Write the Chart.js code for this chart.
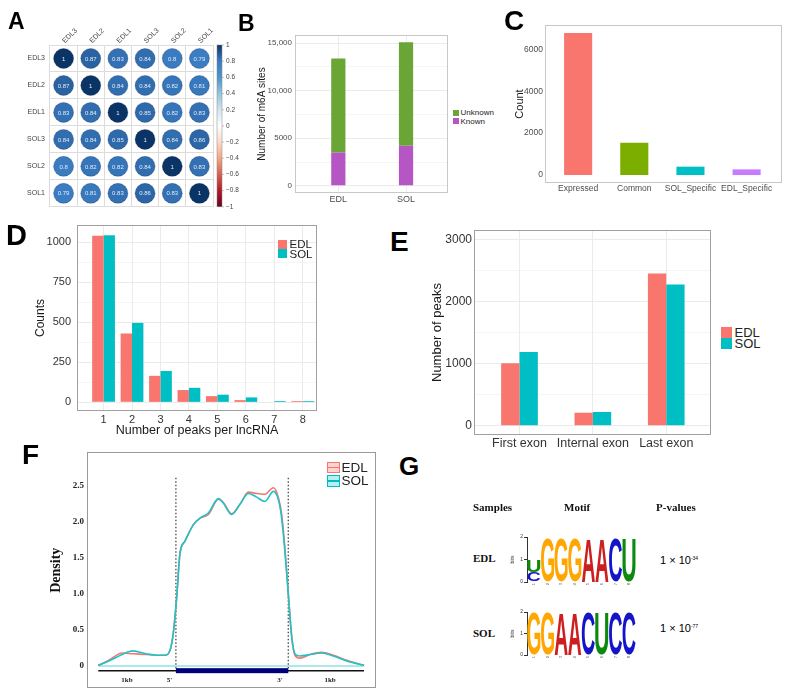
<!DOCTYPE html>
<html>
<head>
<meta charset="utf-8">
<script src="https://cdn.jsdelivr.net/npm/chart.js@4.4.1/dist/chart.umd.min.js"></script>
<style>
  body { margin: 0; background: #fff; width: 791px; height: 698px; position: relative; overflow: hidden;
         font-family: "Liberation Sans", Arial, sans-serif; }
  canvas { position: absolute; }
  .lab { position: absolute; font-weight: bold; color: #000; }
  .t { position: absolute; white-space: nowrap; color: #222; }
  .serif { font-family: "Liberation Serif", "Times New Roman", serif; font-weight: bold; color: #111; }
  .key { position: absolute; }
  sup { font-size: 5px; vertical-align: 4px; }
</style>
</head>
<body>
<canvas id="cA" width="250" height="216" style="left:0;top:0"></canvas>
<canvas id="cB" width="194" height="190" style="left:256px;top:25px"></canvas>
<canvas id="cC" width="271" height="188" style="left:513px;top:15px"></canvas>
<canvas id="cD" width="286" height="227" style="left:33px;top:211px"></canvas>
<canvas id="cE" width="283" height="233" style="left:430px;top:218px"></canvas>
<canvas id="cF" width="330" height="253" style="left:48px;top:444px"></canvas>
<canvas id="cG1" width="128" height="60" style="left:510px;top:530px"></canvas>
<canvas id="cG2" width="128" height="58" style="left:510px;top:605px"></canvas>

<div class="lab" style="left:8px;top:10px;font-size:23px;line-height:23px">A</div>
<div class="lab" style="left:238px;top:12px;font-size:23px;line-height:23px">B</div>
<div class="lab" style="left:504px;top:7px;font-size:28px;line-height:28px">C</div>
<div class="lab" style="left:6px;top:221px;font-size:29px;line-height:29px">D</div>
<div class="lab" style="left:390px;top:228px;font-size:28px;line-height:28px">E</div>
<div class="lab" style="left:22px;top:441px;font-size:28px;line-height:28px">F</div>
<div class="lab" style="left:399px;top:453px;font-size:26px;line-height:26px">G</div>

<!-- legend B -->
<div class="key" style="left:453px;top:110px;width:6px;height:6px;background:#6aa536"></div>
<div class="t" style="left:460.5px;top:108px;font-size:8px;line-height:9px">Unknown</div>
<div class="key" style="left:453px;top:118.3px;width:6px;height:6px;background:#b655c4"></div>
<div class="t" style="left:460.5px;top:116.5px;font-size:8px;line-height:9px">Known</div>

<!-- legend D -->
<div class="key" style="left:278px;top:240px;width:9px;height:8.5px;background:#F8766D"></div>
<div class="t" style="left:289.5px;top:238px;font-size:11.5px;line-height:12px">EDL</div>
<div class="key" style="left:278px;top:249.3px;width:9px;height:8.5px;background:#00BFC4"></div>
<div class="t" style="left:289.5px;top:247.5px;font-size:11.5px;line-height:12px">SOL</div>

<!-- legend E -->
<div class="key" style="left:720.7px;top:326.7px;width:11px;height:11px;background:#F8766D"></div>
<div class="t" style="left:734.5px;top:325.5px;font-size:13px;line-height:13px">EDL</div>
<div class="key" style="left:720.7px;top:338px;width:11px;height:11px;background:#00BFC4"></div>
<div class="t" style="left:734.5px;top:337px;font-size:13px;line-height:13px">SOL</div>

<!-- legend F -->
<div class="key" style="left:326.5px;top:461.5px;width:11.5px;height:9.5px;border:1px solid #F8766D;background:#fcd3cf">
  <div style="margin-top:4px;height:1.5px;background:#F8766D"></div></div>
<div class="t" style="left:341.5px;top:460.5px;font-size:13.5px;line-height:14px">EDL</div>
<div class="key" style="left:326.5px;top:475px;width:11.5px;height:9.5px;border:1px solid #00BFC4;background:#b8eef0">
  <div style="margin-top:4px;height:1.5px;background:#00BFC4"></div></div>
<div class="t" style="left:341.5px;top:474px;font-size:13.5px;line-height:14px">SOL</div>

<!-- table G -->
<div class="t serif" style="left:473px;top:500.5px;font-size:11px;line-height:12px">Samples</div>
<div class="t serif" style="left:564px;top:500.5px;font-size:11px;line-height:12px">Motif</div>
<div class="t serif" style="left:656px;top:500.5px;font-size:11px;line-height:12px">P-values</div>
<div class="t serif" style="left:473px;top:552px;font-size:11px;line-height:12px">EDL</div>
<div class="t serif" style="left:473px;top:627px;font-size:11px;line-height:12px">SOL</div>
<div class="t" style="left:660px;top:552px;font-size:11px;line-height:12px;color:#000">1 × 10<sup>-34</sup></div>
<div class="t" style="left:660px;top:620px;font-size:11px;line-height:12px;color:#000">1 × 10<sup>-77</sup></div>

<script>
// ---- A: correlation between samples
var corrNames = ['EDL3', 'EDL2', 'EDL1', 'SOL3', 'SOL2', 'SOL1'];
var corrValues = [
  [1, 0.87, 0.83, 0.84, 0.8, 0.79],
  [0.87, 1, 0.84, 0.84, 0.82, 0.81],
  [0.83, 0.84, 1, 0.85, 0.82, 0.83],
  [0.84, 0.84, 0.85, 1, 0.84, 0.86],
  [0.8, 0.82, 0.82, 0.84, 1, 0.83],
  [0.79, 0.81, 0.83, 0.86, 0.83, 1]
];
var colorbarTicks = [-1, -0.8, -0.6, -0.4, -0.2, 0, 0.2, 0.4, 0.6, 0.8, 1];

// ---- B: m6A sites
var samplesB = ['EDL', 'SOL'];
var knownB = [3500, 4200];
var unknownB = [9900, 10900];
var ticksB = [0, 5000, 10000, 15000];

// ---- C: lncRNA counts
var groupsC = ['Expressed', 'Common', 'SOL_Specific', 'EDL_Specific'];
var countsC = [6780, 1540, 400, 270];
var ticksC = [0, 2000, 4000, 6000];

// ---- D: peaks per lncRNA
var peaksD = ['1', '2', '3', '4', '5', '6', '7', '8'];
var edlD = [1042, 431, 166, 77, 39, 14, 3, 8];
var solD = [1045, 497, 196, 91, 48, 31, 8, 8];
var ticksD = [0, 250, 500, 750, 1000];

// ---- E: peaks per exon
var exonsE = ['First exon', 'Internal exon', 'Last exon'];
var edlE = [1010, 210, 2460];
var solE = [1190, 222, 2280];
var ticksE = [0, 1000, 2000, 3000];

// ---- F: density along lncRNA (0..1, gene body between geneStart and geneEnd)
var posF = [0, 0.04, 0.09, 0.13, 0.18, 0.22, 0.25, 0.27, 0.282, 0.295, 0.307, 0.326, 0.358, 0.383, 0.414,
            0.452, 0.47, 0.502, 0.533, 0.565, 0.596, 0.627, 0.659, 0.678, 0.69, 0.703, 0.715, 0.728, 0.74,
            0.759, 0.797, 0.84, 0.885, 0.935, 1];
var edlF = [0.01, 0.08, 0.18, 0.17, 0.16, 0.15, 0.15, 0.22, 0.45, 0.95, 1.55, 1.73, 1.96, 2.05, 2.1,
            2.31, 2.27, 2.11, 2.24, 2.41, 2.39, 2.38, 2.47, 2.33, 2.1, 1.6, 1.0, 0.4, 0.15,
            0.11, 0.16, 0.19, 0.15, 0.08, 0.01];
var solF = [0.01, 0.07, 0.16, 0.21, 0.17, 0.15, 0.15, 0.22, 0.45, 0.95, 1.55, 1.73, 1.96, 2.05, 2.12,
            2.32, 2.26, 2.1, 2.24, 2.39, 2.34, 2.28, 2.42, 2.3, 2.05, 1.55, 1.0, 0.4, 0.17,
            0.14, 0.16, 0.18, 0.14, 0.07, 0.01];
var ticksF = [0, 0.5, 1, 1.5, 2, 2.5];
var geneStart = 0.292, geneEnd = 0.715;

// ---- G: motif logos (bits per position)
var logoPos = ['1', '2', '3', '4', '5', '6', '7', '8'];
var bitsTicks = [0, 1, 2];
var edlA = [0, 0, 0, 0, 1.95, 1.95, 0, 0];
var edlC = [0.45, 0, 0, 0, 0, 0, 1.95, 0];
var edlG = [0, 1.95, 1.95, 1.95, 0, 0, 0, 0];
var edlU = [0.5, 0, 0, 0, 0, 0, 0, 1.95];
var solA = [0, 0, 1.95, 1.95, 0, 0, 0, 0];
var solC = [0, 0, 0, 0, 1.95, 0, 1.95, 1.95];
var solG = [1.95, 1.95, 0, 0, 0, 0, 0, 0];
var solU = [0, 0, 0, 0, 0, 1.95, 0, 0];

Chart.defaults.font.family = '"Liberation Sans", Arial, sans-serif';
Chart.defaults.color = '#4d4d4d';
Chart.defaults.animation = false;
Chart.defaults.responsive = false;
Chart.defaults.events = [];
Chart.defaults.layout.autoPadding = false;
Chart.defaults.plugins.legend.display = false;
Chart.defaults.plugins.tooltip.enabled = false;

var rdbu = [[-1, '#67001f'], [-0.8, '#b2182b'], [-0.6, '#d6604d'], [-0.4, '#f4a582'], [-0.2, '#fddbc7'],
            [0, '#ffffff'], [0.2, '#d1e5f0'], [0.4, '#92c5de'], [0.6, '#4d93ca'], [0.8, '#3a7cc2'], [1, '#0b3466']];

function hexRgb(h) {
  return [parseInt(h.slice(1, 3), 16), parseInt(h.slice(3, 5), 16), parseInt(h.slice(5, 7), 16)];
}
function corrColor(v) {
  for (var k = 1; k < rdbu.length; k++) {
    if (v <= rdbu[k][0]) {
      var t = (v - rdbu[k - 1][0]) / (rdbu[k][0] - rdbu[k - 1][0]);
      var a = hexRgb(rdbu[k - 1][1]), b = hexRgb(rdbu[k][1]);
      return 'rgb(' + a.map(function (x, i) { return Math.round(x + (b[i] - x) * t); }).join(',') + ')';
    }
  }
  return rdbu[rdbu.length - 1][1];
}

var panelBox = {
  id: 'panelBox',
  afterDraw: function (chart, args, opts) {
    var a = chart.chartArea, c = chart.ctx;
    c.save();
    c.strokeStyle = opts.color || '#aaa';
    c.lineWidth = 1;
    c.strokeRect(Math.round(a.left) + 0.5, Math.round(a.top) + 0.5,
                 Math.round(a.right - a.left) - 1, Math.round(a.bottom - a.top) - 1);
    c.restore();
  }
};

function withMinor(major) {
  var minor = major.slice(1).map(function (v, i) { return (v + major[i]) / 2; });
  return major.concat(minor).sort(function (a, b) { return a - b; });
}
function xyData(vals) {
  return vals.map(function (v, i) { return { x: i + 1, y: v }; });
}

// ggplot-like bar panel on linear scales, so the discrete expansion can be matched
function ggBar(id, cfg) {
  var major = cfg.yTicks;
  var all = cfg.grid ? withMinor(major) : major;
  return new Chart(document.getElementById(id), {
    type: 'bar',
    data: {
      datasets: cfg.series.map(function (s) {
        return { label: s.label, data: xyData(s.data), backgroundColor: s.color, borderWidth: 0,
                 categoryPercentage: cfg.catPct, barPercentage: cfg.barPct };
      })
    },
    options: {
      layout: { padding: { top: cfg.pt, right: 2, bottom: 0, left: 0 } },
      plugins: { panelBox: { color: cfg.box } },
      scales: {
        x: {
          type: 'linear', min: cfg.xMin, max: cfg.xMax, offset: false, stacked: !!cfg.stacked,
          afterBuildTicks: function (s) { s.ticks = cfg.names.map(function (n, i) { return { value: i + 1 }; }); },
          afterFit: function (s) { s.height = cfg.xh; },
          ticks: { autoSkip: false, maxRotation: 0, padding: cfg.xPad, color: cfg.tickColor,
                   font: { size: cfg.xSize }, callback: function (v) { return cfg.names[v - 1]; } },
          grid: { display: cfg.grid, offset: false, color: '#ebebeb', drawTicks: false },
          border: { display: false },
          title: cfg.xTitle ? { display: true, text: cfg.xTitle, color: '#1a1a1a', font: { size: cfg.xTitleSize }, padding: 0 }
                            : { display: false }
        },
        y: {
          type: 'linear', min: cfg.yMin, max: cfg.yMax, stacked: !!cfg.stacked,
          afterBuildTicks: function (s) { s.ticks = all.map(function (v) { return { value: v }; }); },
          afterFit: function (s) { s.width = cfg.yw; },
          ticks: { autoSkip: false, padding: cfg.yPad, color: cfg.tickColor, font: { size: cfg.ySize },
                   callback: function (v) { return major.indexOf(v) >= 0 ? cfg.yFmt(v) : ''; } },
          grid: { display: cfg.grid, color: '#ebebeb', drawTicks: false,
                  lineWidth: function (ctx) { return ctx.tick && major.indexOf(ctx.tick.value) >= 0 ? 1 : 0.5; } },
          border: { display: false },
          title: { display: true, text: cfg.yTitle, color: '#1a1a1a', font: { size: cfg.yTitleSize }, padding: 0 }
        }
      }
    },
    plugins: [panelBox]
  });
}

// ---------- A
var cells = [];
corrNames.forEach(function (row, i) {
  corrNames.forEach(function (col, j) { cells.push({ x: col, y: row, v: corrValues[i][j] }); });
});

var cellLabels = {
  id: 'cellLabels',
  afterDatasetsDraw: function (chart) {
    var c = chart.ctx;
    c.save();
    c.font = '6px "Liberation Sans"';
    c.fillStyle = '#e4ebf4';
    c.textAlign = 'center';
    c.textBaseline = 'middle';
    chart.getDatasetMeta(0).data.forEach(function (el, i) {
      c.fillText(String(cells[i].v), el.x, el.y + 0.5);
    });
    c.restore();
  }
};
var colorBar = {
  id: 'colorBar',
  afterDraw: function (chart) {
    var s = chart.scales.y2, a = chart.chartArea, c = chart.ctx;
    var top = s.getPixelForValue(1), bot = s.getPixelForValue(-1);
    var g = c.createLinearGradient(0, top, 0, bot);
    rdbu.forEach(function (st) { g.addColorStop((1 - st[0]) / 2, st[1]); });
    c.save();
    c.fillStyle = g;
    c.fillRect(a.right + 4, top, 5, bot - top);
    c.strokeStyle = '#888';
    c.lineWidth = 0.5;
    c.strokeRect(a.right + 4, top, 5, bot - top);
    colorbarTicks.forEach(function (v) {
      var y = s.getPixelForValue(v);
      c.beginPath(); c.moveTo(a.right + 9, y); c.lineTo(a.right + 11, y); c.stroke();
    });
    c.restore();
  }
};

new Chart(document.getElementById('cA'), {
  type: 'bubble',
  data: {
    datasets: [{
      data: cells,
      backgroundColor: function (ctx) { return ctx.raw ? corrColor(ctx.raw.v) : '#000'; },
      borderColor: 'rgba(10,30,70,0.45)',
      borderWidth: 0.6,
      radius: function (ctx) {
        var a = ctx.chart.chartArea;
        if (!a || !ctx.raw) return 10;
        var cell = (a.right - a.left) / corrNames.length;
        return cell / 2 * 0.95 * Math.sqrt(Math.abs(ctx.raw.v));
      }
    }]
  },
  options: {
    layout: { padding: { top: 0, right: 0, bottom: 8, left: 0 } },
    scales: {
      x: {
        type: 'category', labels: corrNames, position: 'top', offset: true,
        afterFit: function (s) { s.height = 45; },
        ticks: { minRotation: 45, maxRotation: 45, padding: 0, labelOffset: 6, color: '#444', font: { size: 7 } },
        grid: { offset: true, color: '#dcdcdc', drawTicks: false },
        border: { display: false }
      },
      y: {
        type: 'category', labels: corrNames, offset: true,
        afterFit: function (s) { s.width = 50; },
        ticks: { padding: 5, color: '#444', font: { size: 7 } },
        grid: { offset: true, color: '#dcdcdc', drawTicks: false },
        border: { display: false }
      },
      y2: {
        type: 'linear', position: 'right', min: -1, max: 1,
        afterBuildTicks: function (s) { s.ticks = colorbarTicks.map(function (v) { return { value: v }; }); },
        afterFit: function (s) { s.width = 37; },
        ticks: { padding: 0, color: '#444', font: { size: 6.5 },
                 callback: function (v) { var r = Math.round(v * 10) / 10; return r < 0 ? '\u2212' + (-r) : String(r); } },
        grid: { display: true, drawOnChartArea: false, drawTicks: true, tickLength: 13, color: 'rgba(0,0,0,0)' },
        border: { display: false }
      }
    }
  },
  plugins: [cellLabels, colorBar]
});

// ---------- B
ggBar('cB', {
  names: samplesB, stacked: true,
  series: [{ label: 'Known', data: knownB, color: '#b655c4' }, { label: 'Unknown', data: unknownB, color: '#6aa536' }],
  xMin: 0.36, xMax: 2.62, yMin: -760, yMax: 15860, yTicks: ticksB,
  yFmt: function (v) { return v >= 10000 ? v.toLocaleString('en-US') : String(v); },
  catPct: 1, barPct: 0.21, grid: true, box: '#c8c8c8', pt: 10, yw: 39, xh: 22,
  xPad: 1, yPad: 3, xSize: 9, ySize: 8, tickColor: '#4d4d4d',
  yTitle: 'Number of m6A sites', yTitleSize: 10
});

// ---------- C
ggBar('cC', {
  names: groupsC,
  series: [{ label: 'Count', data: countsC, color: ['#F8766D', '#7CAE00', '#00BFC4', '#C77CFF'] }],
  xMin: 0.41, xMax: 4.63, yMin: -380, yMax: 7160, yTicks: ticksC,
  yFmt: function (v) { return String(v); },
  catPct: 1, barPct: 0.5, grid: false, box: '#c8c8c8', pt: 10, yw: 32, xh: 20,
  xPad: 1, yPad: 2, xSize: 8.5, ySize: 8.5, tickColor: '#4d4d4d',
  yTitle: 'Count', yTitleSize: 11
});

// ---------- D
ggBar('cD', {
  names: peaksD,
  series: [{ label: 'EDL', data: edlD, color: '#F8766D' }, { label: 'SOL', data: solD, color: '#00BFC4' }],
  xMin: 0.067, xMax: 8.5, yMin: -54, yMax: 1109, yTicks: ticksD,
  yFmt: function (v) { return String(v); },
  catPct: 0.8, barPct: 1, grid: true, box: '#a0a0a0', pt: 14, yw: 44, xh: 27,
  xPad: 2, yPad: 6, xSize: 11, ySize: 11, tickColor: '#333',
  xTitle: 'Number of peaks per lncRNA', xTitleSize: 12.5,
  yTitle: 'Counts', yTitleSize: 12
});

// ---------- E
ggBar('cE', {
  names: exonsE,
  series: [{ label: 'EDL', data: edlE, color: '#F8766D' }, { label: 'SOL', data: solE, color: '#00BFC4' }],
  xMin: 0.38, xMax: 3.61, yMin: -150, yMax: 3161, yTicks: ticksE,
  yFmt: function (v) { return String(v); },
  catPct: 0.5, barPct: 1, grid: true, box: '#a0a0a0', pt: 12, yw: 44, xh: 16,
  xPad: 1, yPad: 2, xSize: 12.5, ySize: 12, tickColor: '#333',
  yTitle: 'Number of peaks', yTitleSize: 13
});

// ---------- F
var geneTrack = {
  id: 'geneTrack',
  beforeDatasetsDraw: function (chart) {
    var x = chart.scales.x, y = chart.scales.y, c = chart.ctx;
    c.save();
    c.strokeStyle = '#555';
    c.lineWidth = 1.4;
    c.setLineDash([1.5, 2]);
    [geneStart, geneEnd].forEach(function (p) {
      c.beginPath();
      c.moveTo(x.getPixelForValue(p), y.getPixelForValue(2.61));
      c.lineTo(x.getPixelForValue(p), y.getPixelForValue(-0.03));
      c.stroke();
    });
    c.restore();
  },
  afterDatasetsDraw: function (chart) {
    var x = chart.scales.x, y = chart.scales.y, c = chart.ctx;
    var ty = y.getPixelForValue(-0.064);
    c.save();
    c.strokeStyle = '#111';
    c.lineWidth = 1.5;
    c.beginPath(); c.moveTo(x.getPixelForValue(0), ty); c.lineTo(x.getPixelForValue(1), ty); c.stroke();
    c.fillStyle = '#00007a';
    c.fillRect(x.getPixelForValue(geneStart), ty - 2.5, x.getPixelForValue(geneEnd) - x.getPixelForValue(geneStart), 5);
    c.font = 'bold 7px "Liberation Serif"';
    c.fillStyle = '#222';
    c.textAlign = 'center';
    c.textBaseline = 'middle';
    var ly = y.getPixelForValue(-0.19);
    [[0.108, '1kb'], [0.268, "5'"], [0.684, "3'"], [0.872, '1kb']].forEach(function (l) {
      c.fillText(l[1], x.getPixelForValue(l[0]), ly);
    });
    c.restore();
  }
};

function curve(vals) {
  return posF.map(function (p, i) { return { x: p, y: vals[i] }; });
}

new Chart(document.getElementById('cF'), {
  type: 'line',
  data: {
    datasets: [
      { label: 'SOL', data: curve(solF), borderColor: '#1cc3c8', borderWidth: 1.6 },
      { label: 'EDL', data: curve(edlF), borderColor: '#F8766D', borderWidth: 1.6 },
      { label: 'base', data: [{ x: 0, y: 0 }, { x: 1, y: 0 }], borderColor: '#8fe3e6', borderWidth: 1.6 }
    ]
  },
  options: {
    layout: { padding: { top: 8, right: 2, bottom: 9, left: 0 } },
    elements: { point: { radius: 0 }, line: { cubicInterpolationMode: 'monotone', fill: false } },
    plugins: { panelBox: { color: '#999' } },
    scales: {
      x: { type: 'linear', display: false, min: -0.0425, max: 1.045 },
      y: {
        type: 'linear', min: -0.304, max: 2.96,
        afterBuildTicks: function (s) { s.ticks = ticksF.map(function (v) { return { value: v }; }); },
        afterFit: function (s) { s.width = 39; },
        ticks: { padding: 3, color: '#222', font: { family: '"Liberation Serif"', weight: 'bold', size: 9 },
                 callback: function (v) { return v === 0 ? '0' : v.toFixed(1); } },
        grid: { display: false, drawTicks: false },
        border: { display: false },
        title: { display: true, text: 'Density', color: '#111', padding: 0,
                 font: { family: '"Liberation Serif"', weight: 'bold', size: 14 } }
      }
    }
  },
  plugins: [geneTrack, panelBox]
});

// ---------- G: sequence logos, letters stretched into stacked bars
var baseColors = { A: '#cc1f1f', C: '#1515c8', G: '#ffa600', U: '#0d8a0d' };
var letters = {
  id: 'letters',
  afterDatasetsDraw: function (chart) {
    var c = chart.ctx;
    chart.data.datasets.forEach(function (ds, k) {
      chart.getDatasetMeta(k).data.forEach(function (el) {
        var h = el.base - el.y;
        if (h < 1) return;
        var w = el.width, x0 = el.x - w / 2;
        c.save();
        c.font = 'bold 100px "Liberation Sans"';
        c.textBaseline = 'alphabetic';
        var m = c.measureText(ds.label);
        var gw = m.actualBoundingBoxLeft + m.actualBoundingBoxRight;
        var gh = m.actualBoundingBoxAscent + m.actualBoundingBoxDescent;
        c.translate(x0, el.base);
        c.scale(w / gw, h / gh);
        c.fillStyle = baseColors[ds.label];
        c.fillText(ds.label, m.actualBoundingBoxLeft, -m.actualBoundingBoxDescent);
        c.restore();
      });
    });
  }
};

function logo(id, sets) {
  return new Chart(document.getElementById(id), {
    type: 'bar',
    data: {
      labels: logoPos,
      datasets: ['A', 'C', 'G', 'U'].map(function (b, k) {
        return { label: b, data: sets[k], backgroundColor: 'rgba(0,0,0,0)', borderWidth: 0,
                 categoryPercentage: 1, barPercentage: 0.96 };
      })
    },
    options: {
      layout: { padding: { top: 7, right: 2, bottom: 0, left: 0 } },
      scales: {
        x: {
          stacked: true,
          afterFit: function (s) { s.height = 8; },
          ticks: { font: { size: 4 }, padding: 1, minRotation: 90, maxRotation: 90, color: '#555', autoSkip: false },
          grid: { display: false, drawTicks: false },
          border: { display: false }
        },
        y: {
          stacked: true, min: 0, max: 2,
          afterBuildTicks: function (s) { s.ticks = bitsTicks.map(function (v) { return { value: v }; }); },
          afterFit: function (s) { s.width = 17; },
          ticks: { font: { size: 5 }, padding: 1, color: '#333' },
          grid: { drawOnChartArea: false, tickLength: 3, color: '#333' },
          border: { display: true, color: '#333' },
          title: { display: true, text: 'bits', font: { size: 5 }, padding: 0, color: '#333' }
        }
      }
    },
    plugins: [letters]
  });
}
logo('cG1', [edlA, edlC, edlG, edlU]);
logo('cG2', [solA, solC, solG, solU]);
</script>
</body>
</html>
